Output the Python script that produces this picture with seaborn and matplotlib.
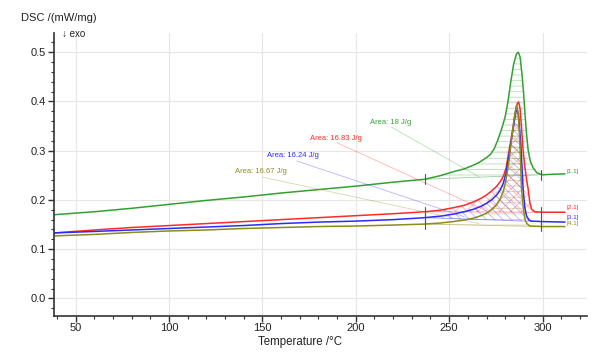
import numpy as np
import pandas as pd
import matplotlib
matplotlib.use("Agg")
import matplotlib.pyplot as plt
from matplotlib.ticker import MultipleLocator
import seaborn as sns

# DSC curves (temperature in C, DSC in mW/mg)
t_green = [38.5, 60, 80, 100, 120, 140, 160, 180, 200, 220, 237, 245, 252, 258, 262, 266, 268, 270,
           272, 274, 276, 278, 280, 281.5, 283, 284.5, 286, 287, 288, 289, 289.8, 290.6, 291.4, 292.3,
           293.5, 295, 297, 300, 305, 312]
dsc_green = [0.170, 0.176, 0.183, 0.191, 0.199, 0.206, 0.214, 0.221, 0.228, 0.236, 0.242, 0.249, 0.257,
             0.263, 0.269, 0.276, 0.281, 0.286, 0.292, 0.303, 0.321, 0.343, 0.369, 0.400, 0.440, 0.475,
             0.496, 0.500, 0.490, 0.455, 0.420, 0.375, 0.335, 0.301, 0.278, 0.265, 0.255, 0.251, 0.252, 0.253]

t_red = [38.5, 60, 80, 100, 120, 140, 160, 180, 200, 220, 237, 245, 252, 258, 263, 267, 270, 273, 275.5,
         277.5, 279, 280.5, 281.6, 283, 284.3, 285.5, 286.5, 287.2, 288, 288.7, 289.6, 290.5, 291.4,
         292.3, 293.2, 294.2, 295.8, 300, 312]
dsc_red = [0.133, 0.139, 0.144, 0.148, 0.152, 0.156, 0.160, 0.164, 0.168, 0.172, 0.176, 0.179, 0.184,
           0.189, 0.196, 0.203, 0.210, 0.219, 0.228, 0.238, 0.248, 0.265, 0.290, 0.320, 0.350, 0.380,
           0.396, 0.399, 0.385, 0.350, 0.300, 0.268, 0.243, 0.222, 0.195, 0.181, 0.176, 0.175, 0.175]

t_blue = [38.5, 60, 80, 100, 120, 140, 160, 180, 200, 220, 237, 245, 252, 258, 263, 267, 270, 273, 275.4,
          277.3, 279, 280.5, 281.6, 283, 284.3, 285.5, 286.4, 287.2, 288.4, 289.6, 290.5, 291.4, 292.6,
          294, 300, 312]
dsc_blue = [0.133, 0.136, 0.139, 0.142, 0.145, 0.148, 0.152, 0.155, 0.157, 0.160, 0.164, 0.167, 0.171,
            0.176, 0.181, 0.187, 0.193, 0.201, 0.210, 0.220, 0.234, 0.255, 0.281, 0.315, 0.345, 0.375,
            0.386, 0.370, 0.310, 0.222, 0.185, 0.168, 0.160, 0.157, 0.156, 0.155]

t_olive = [38.5, 60, 80, 100, 120, 140, 160, 180, 200, 220, 237, 245, 252, 258, 263, 267, 270, 273, 275.4,
           277.3, 279, 280.2, 281, 282.1, 283.4, 284.8, 286, 287, 287.8, 288.3, 288.7, 289.7, 290.6,
           291.6, 293.3, 300, 312]
dsc_olive = [0.127, 0.130, 0.134, 0.137, 0.139, 0.142, 0.144, 0.146, 0.147, 0.149, 0.151, 0.153, 0.156,
             0.159, 0.163, 0.168, 0.173, 0.181, 0.190, 0.202, 0.217, 0.236, 0.254, 0.281, 0.322, 0.365,
             0.392, 0.375, 0.322, 0.270, 0.225, 0.185, 0.160, 0.152, 0.147, 0.146, 0.146]

curve_names = ["[1.1]", "[2.1]", "[3.1]", "[4.1]"]
area_labels = ["Area: 18 J/g", "Area: 16.83 J/g", "Area: 16.24 J/g", "Area: 16.67 J/g"]
colors = ["#33a033", "#ff2b2b", "#2b2bff", "#8c8c1a"]
hatches = ["---", "xxx", "\\\\\\\\", "---"]

# integration limits and baseline end values
t_start, t_end = 237, 299
base_left = [0.242, 0.176, 0.164, 0.151]
base_right = [0.251, 0.175, 0.156, 0.146]

# area label anchors (text left/centre) and leader lines
label_xy = [(207.6, 0.358), (175.4, 0.324), (152.4, 0.290), (135.3, 0.257)]
leader_from = [(219, 0.348), (190, 0.316), (168.4, 0.279), (150.3, 0.246)]
leader_to = [(266, 0.247), (270, 0.178), (258, 0.166), (266, 0.152)]
end_label_y = [0.258, 0.184, 0.164, 0.152]

curves = [(t_green, dsc_green), (t_red, dsc_red), (t_blue, dsc_blue), (t_olive, dsc_olive)]

sns.set_style("whitegrid", {"grid.color": "#e6e6e6"})
plt.rcParams['font.family'] = ['Liberation Sans', 'DejaVu Sans']
plt.rcParams['hatch.linewidth'] = 0.6

fig = plt.figure(figsize=(6, 3.53), dpi=100)
ax = fig.add_axes([0.09, 0.1057, 0.888, 0.801])

for i, (t, d) in enumerate(curves):
    df = pd.DataFrame({"T": t, "DSC": d})
    # hatched peak area between curve and linear baseline
    seg = df[(df["T"] >= t_start) & (df["T"] <= t_end)]
    tt = np.concatenate([[t_start], seg["T"].values, [t_end]])
    dd = np.concatenate([[base_left[i]], seg["DSC"].values, [base_right[i]]])
    base = np.interp(tt, [t_start, t_end], [base_left[i], base_right[i]])
    ax.fill_between(tt, dd, base, facecolor="none", edgecolor=colors[i], alpha=0.35,
                    hatch=hatches[i], linewidth=0)
    ax.plot([t_start, t_end], [base_left[i], base_right[i]], color=colors[i], lw=0.6, alpha=0.5)
    # leader line and label
    ax.plot([leader_from[i][0], leader_to[i][0]], [leader_from[i][1], leader_to[i][1]],
            color=colors[i], lw=0.6, alpha=0.35)
    ax.text(label_xy[i][0], label_xy[i][1], area_labels[i], color=colors[i], fontsize=5.5,
            va="center", ha="left")
    sns.lineplot(data=df, x="T", y="DSC", ax=ax, color=colors[i], lw=1.1, estimator=None, sort=False)
    # limit markers
    for tm, bm in [(t_start, base_left[i]), (t_end, base_right[i])]:
        ax.plot([tm, tm], [bm - 0.01, bm + 0.01], color="#555555", lw=0.8)
    ax.text(313, end_label_y[i], curve_names[i], color=colors[i], fontsize=4.5, va="center", ha="left")

ax.set_xlim(38.4, 323.7)
ax.set_ylim(-0.035, 0.539)
ax.xaxis.set_major_locator(MultipleLocator(50))
ax.xaxis.set_minor_locator(MultipleLocator(10))
ax.yaxis.set_major_locator(MultipleLocator(0.1))
ax.yaxis.set_minor_locator(MultipleLocator(0.02))
ax.set_xticks([50, 100, 150, 200, 250, 300])
ax.set_yticks([0.0, 0.1, 0.2, 0.3, 0.4, 0.5])
ax.yaxis.set_major_formatter(matplotlib.ticker.FormatStrFormatter("%.1f"))
ax.tick_params(which="major", direction="out", length=4, width=1, color="#333333",
               labelsize=8, labelcolor="#222222", bottom=True, left=True, pad=1.5)
ax.tick_params(which="minor", direction="out", length=2, width=0.8, color="#333333",
               bottom=True, left=True)
ax.grid(True, which="major", color="#e6e6e6", lw=0.8)
ax.grid(False, which="minor")
for side in ["top", "right"]:
    ax.spines[side].set_visible(False)
for side in ["left", "bottom"]:
    ax.spines[side].set_color("#333333")
    ax.spines[side].set_linewidth(1.2)
ax.set_xlabel("")
ax.set_ylabel("")

fig.text(0.5, 0.03, "Temperature /\u00b0C", ha="center", va="center", fontsize=8.3, color="#222222")
fig.text(0.035, 0.949, "DSC /(mW/mg)", ha="left", va="center", fontsize=8, color="#222222")
fig.text(0.103, 0.904, "\u2193 exo", ha="left", va="center", fontsize=7, color="#222222")

fig.savefig("out.png", dpi=100)
